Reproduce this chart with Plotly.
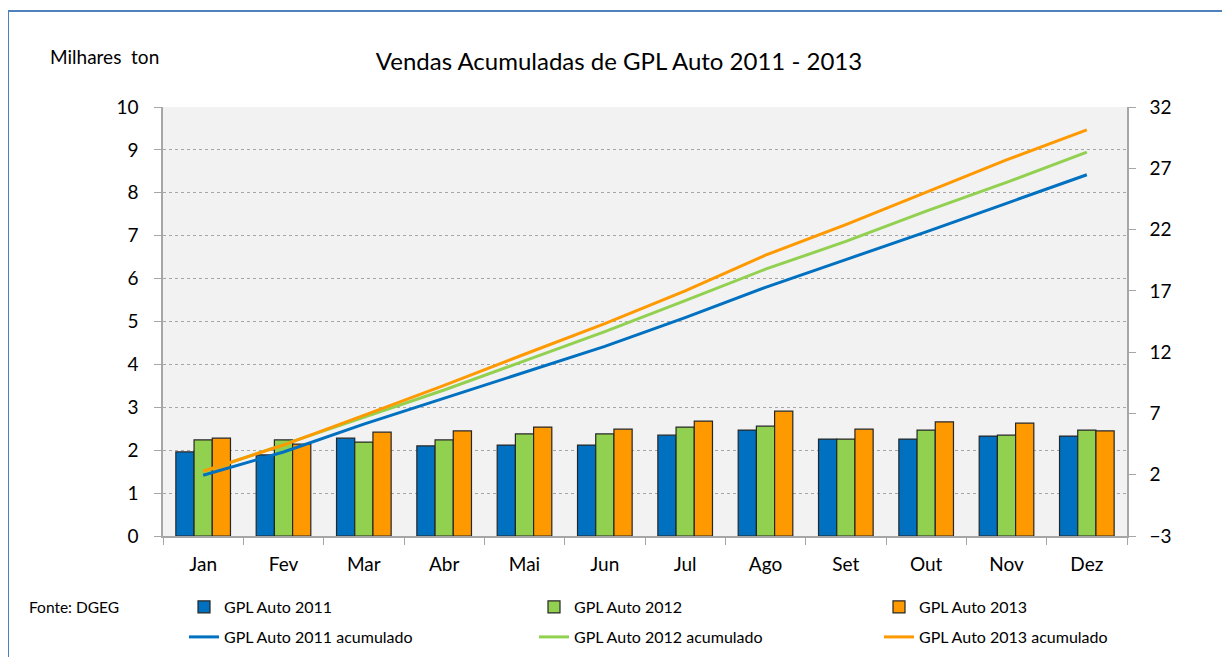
import plotly.graph_objects as go

months = ["Jan", "Fev", "Mar", "Abr", "Mai", "Jun", "Jul", "Ago", "Set", "Out", "Nov", "Dez"]

vendas_2011 = [1.96, 1.89, 2.28, 2.10, 2.12, 2.12, 2.35, 2.47, 2.26, 2.26, 2.33, 2.33]
vendas_2012 = [2.24, 2.24, 2.19, 2.24, 2.38, 2.38, 2.54, 2.56, 2.26, 2.47, 2.35, 2.47]
vendas_2013 = [2.28, 2.14, 2.42, 2.45, 2.54, 2.49, 2.68, 2.91, 2.49, 2.66, 2.63, 2.45]

acum_2011 = [1.96, 3.85, 6.13, 8.23, 10.35, 12.47, 14.82, 17.29, 19.55, 21.81, 24.14, 26.47]
acum_2012 = [2.24, 4.48, 6.67, 8.91, 11.29, 13.67, 16.21, 18.77, 21.03, 23.50, 25.85, 28.32]
acum_2013 = [2.28, 4.42, 6.84, 9.29, 11.83, 14.32, 17.00, 19.91, 22.40, 25.06, 27.69, 30.14]

left_ticks = [0, 1, 2, 3, 4, 5, 6, 7, 8, 9, 10]
right_ticks = [-3, 2, 7, 12, 17, 22, 27, 32]

BLUE = "#0070C0"
GREEN = "#92D050"
ORANGE = "#FF9900"
FONT = "Lato"

# page has an 8px body margin; work in page pixel coordinates
OFF = 8
W, H = 1230 - OFF, 657 - OFF
PL, PR, PT, PB = 163, 1127, 107, 536  # plot area in page pixels
L = PL - OFF
T = PT - OFF
R = W - (PR - OFF)
B = H - (PB - OFF)
pw = PR - PL
ph = PB - PT

def px(x):
    return (x - PL) / pw

def py(y):
    return (PB - y) / ph

legend_cols = [184, 534, 879]
legend_rows = [590, 620]

fig = go.Figure()
for i, (name, vals, col) in enumerate([("GPL Auto 2011", vendas_2011, BLUE),
                                       ("GPL Auto 2012", vendas_2012, GREEN),
                                       ("GPL Auto 2013", vendas_2013, ORANGE)]):
    fig.add_trace(go.Bar(x=months, y=vals, name=name,
                         legend="legend" if i == 0 else f"legend{i + 1}",
                         marker=dict(color=col, line=dict(color="#262626", width=1.2))))
for i, (name, vals, col) in enumerate([("GPL Auto 2011 acumulado", acum_2011, BLUE),
                                       ("GPL Auto 2012 acumulado", acum_2012, GREEN),
                                       ("GPL Auto 2013 acumulado", acum_2013, ORANGE)]):
    fig.add_trace(go.Scatter(x=months, y=vals, name=name, mode="lines", yaxis="y2",
                             legend=f"legend{i + 4}", line=dict(color=col, width=3)))

legends = {}
for r in range(2):
    for c in range(3):
        idx = r * 3 + c + 1
        key = "legend" if idx == 1 else f"legend{idx}"
        legends[key] = dict(x=px(legend_cols[c]), y=py(legend_rows[r]),
                            xanchor="left", yanchor="top", orientation="v",
                            font=dict(size=16, family=FONT), itemwidth=30,
                            bgcolor="rgba(0,0,0,0)")

fig.update_layout(
    width=W, height=H,
    margin=dict(l=L, r=R, t=T, b=B, autoexpand=False),
    paper_bgcolor="white",
    plot_bgcolor="#F2F2F2",
    font=dict(family=FONT, color="#000000"),
    barmode="group",
    bargap=0.32,
    bargroupgap=0.0,
    title=dict(text="Vendas Acumuladas de GPL Auto 2011 - 2013",
               x=(619 - OFF) / W, xanchor="center", y=1 - (62 - OFF) / H, yanchor="middle",
               font=dict(size=24, family=FONT)),
    xaxis=dict(type="category", showline=True, linecolor="#A6A6A6", linewidth=1.5,
               ticks="outside", tickson="boundaries", ticklen=7, tickcolor="#A6A6A6",
               ticklabelstandoff=10,
               tickfont=dict(size=19, family=FONT), showgrid=False),
    yaxis=dict(range=[0, 10], tickvals=left_ticks, showline=True, linecolor="#A6A6A6",
               linewidth=1.5, ticks="outside", ticklen=7, tickcolor="#A6A6A6",
               ticklabelstandoff=12,
               tickfont=dict(size=19, family=FONT), showgrid=True,
               gridcolor="#A6A6A6", griddash="dot", gridwidth=1, zeroline=False),
    yaxis2=dict(range=[-3, 32], tickvals=right_ticks, overlaying="y", side="right",
                showline=True, linecolor="#A6A6A6", linewidth=1.5, ticks="outside",
                ticklen=7, tickcolor="#A6A6A6", ticklabelstandoff=10,
                tickfont=dict(size=19, family=FONT),
                showgrid=False, zeroline=False),
    showlegend=True,
    **legends,
)

fig.add_annotation(text="Milhares  ton", xref="paper", yref="paper",
                   x=px(48), y=py(57), xanchor="left", yanchor="middle",
                   showarrow=False, font=dict(size=19, family=FONT))
fig.add_annotation(text="Fonte: DGEG", xref="paper", yref="paper",
                   x=px(27), y=py(607), xanchor="left", yanchor="middle",
                   showarrow=False, font=dict(size=15.5, family=FONT))

fig.add_shape(type="rect", xref="paper", yref="paper",
              x0=px(8), x1=px(1245), y0=py(11), y1=py(680),
              line=dict(color="#4F81BD", width=2), fillcolor="rgba(0,0,0,0)", layer="above")

fig.write_html("out.html")
